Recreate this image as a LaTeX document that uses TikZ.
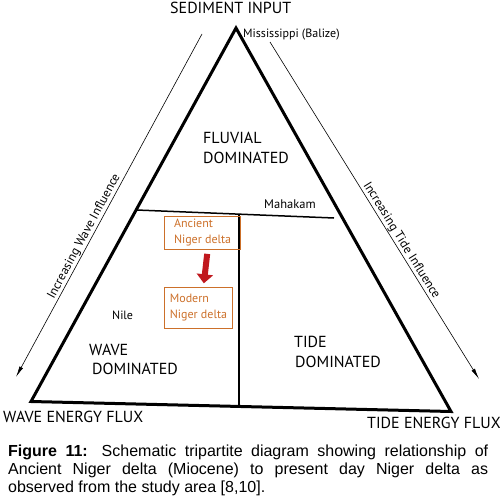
\documentclass[tikz,border=0pt]{standalone}
\usepackage{fontspec}
\setmainfont{Liberation Sans}
\newfontfamily\diafont{PT Sans}
\usetikzlibrary{arrows.meta}
\definecolor{orng}{RGB}{204,112,42}
\definecolor{redarr}{RGB}{192,24,30}
\tikzset{
  big/.style={font=\diafont\fontsize{16}{18}\selectfont, inner sep=0pt, anchor=base west},
  small/.style={font=\diafont\fontsize{12}{14}\selectfont, inner sep=0pt, anchor=base west},
  slopetext/.style={font=\diafont\fontsize{12.5}{14}\selectfont, sloped, above, inner sep=1pt},
  obox/.style={draw=orng, line width=0.9pt, text=orng, font=\diafont\fontsize{12}{16}\selectfont, align=left, inner sep=0pt, anchor=north west},
  thinarrow/.style={line width=0.6pt, -{Latex[length=11pt,width=4pt]}},
  redarrow/.style={draw=redarr, line width=6pt, -{Triangle[length=9pt,width=16pt]}}
}
\begin{document}
\begin{tikzpicture}[x=1pt,y=-1pt]
\useasboundingbox (0,0) rectangle (500,500);
% triangle
\coordinate (T) at (236,28);
\coordinate (L) at (31,401.5);
\coordinate (R) at (451,411.5);
\draw[line width=3pt, line join=miter] (T) -- (L) -- (R) -- cycle;
% inner boundaries
\coordinate (m1) at (136.5,210);
\coordinate (m2) at (334,218);
\draw[line width=1.5pt] (m1) -- (m2);
\coordinate (v1) at (239.2,214);
\coordinate (v2) at (239.2,406.5);
\draw[line width=1.5pt] (v1) -- (v2);
% side arrows
\coordinate (wt) at (202,34);
\coordinate (wb) at (16,377);
\draw[thinarrow] (wt) -- (wb);
\path (wb) -- (wt) node[slopetext, pos=0.4] (wlab) {Increasing Wave Influence};
\coordinate (tt) at (270,42);
\coordinate (tb) at (479,379);
\draw[thinarrow] (tt) -- (tb);
\path (tt) -- (tb) node[slopetext, pos=0.6] (tlab) {Increasing Tide Influence};
% labels
\node[big] (sed) at (170,14) {SEDIMENT INPUT};
\node[small] (miss) at (243,38) {Mississippi (Balize)};
\node[big] (fl1) at (203,143) {FLUVIAL};
\node[big] (fl2) at (203,163) {DOMINATED};
\node[small, font=\diafont\fontsize{12.5}{14}\selectfont] (mah) at (264,208.5) {Mahakam};
\node[small] (nile) at (112,319.3) {Nile};
\node[big] (wd1) at (89,355) {WAVE};
\node[big] (wd2) at (92,374.3) {DOMINATED};
\node[big] (td1) at (294,347.3) {TIDE};
\node[big] (td2) at (295,367.7) {DOMINATED};
\node[big] (wef) at (3,422.3) {WAVE ENERGY FLUX};
\node[big] (tef) at (367,428.3) {TIDE ENERGY FLUX};
% boxes
\node[obox, minimum width=75.7pt, minimum height=33.6pt] (anc) at (164.3,215.7) {Ancient\\Niger delta};
\node[obox, minimum width=67.4pt, minimum height=41pt] (mod) at (164.3,286.7) {Modern\\Niger delta};
\draw[redarrow, shorten <=3.7pt, shorten >=3.4pt] ([xshift=5pt]anc.south) -- ([xshift=5pt]mod.north);
% caption
\node[anchor=base west, inner sep=0pt, text width=480pt, align=justify,
      font=\fontsize{16}{18}\selectfont] (cap) at (8,456)
  {\hyphenpenalty=10000 \textbf{Figure 11:} Schematic tripartite diagram showing relationship of\linebreak
   Ancient Niger delta (Miocene) to present day Niger delta as\linebreak
   observed from the study area [8,10].};
\end{tikzpicture}
\end{document}
